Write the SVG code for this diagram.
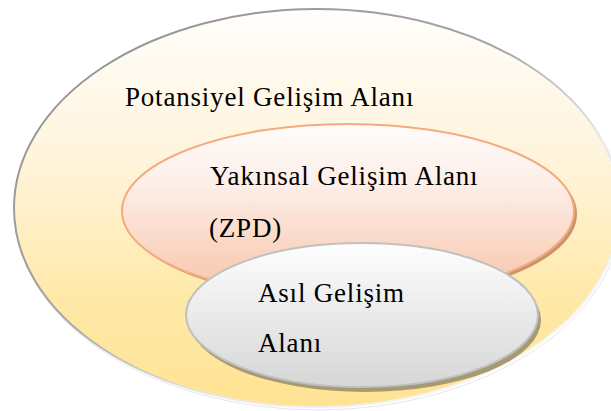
<svg xmlns="http://www.w3.org/2000/svg" width="611" height="411" viewBox="0 0 611 411" font-family="'Liberation Serif', 'Times New Roman', Times, serif" style="font-family:'Liberation Serif', 'Times New Roman', Times, serif">
  <defs>
    <linearGradient id="outerFill" x1="0" y1="0" x2="0" y2="1">
      <stop offset="0" stop-color="#fffefb"/>
      <stop offset="0.38" stop-color="#fff4dc"/>
      <stop offset="0.73" stop-color="#ffe9a8"/>
      <stop offset="1" stop-color="#ffe393"/>
    </linearGradient>
    <linearGradient id="outerStroke" x1="0" y1="0" x2="1" y2="1">
      <stop offset="0" stop-color="#8e8e8e"/>
      <stop offset="0.45" stop-color="#a6a6a6"/>
      <stop offset="0.65" stop-color="#e8e8e8"/>
      <stop offset="1" stop-color="#ffffff"/>
    </linearGradient>
    <linearGradient id="midFill" x1="0" y1="0" x2="0" y2="1">
      <stop offset="0" stop-color="#fffcfb"/>
      <stop offset="0.35" stop-color="#fdeee8"/>
      <stop offset="0.8" stop-color="#f9d0ba"/>
      <stop offset="1" stop-color="#f8c6ac"/>
    </linearGradient>
    <linearGradient id="innerFill" x1="0" y1="0" x2="0" y2="1">
      <stop offset="0" stop-color="#fefefe"/>
      <stop offset="1" stop-color="#d6d6d6"/>
    </linearGradient>
  </defs>
  <style>
    svg, g, text { font-family: "Liberation Serif", "Times New Roman", Times, serif !important; }
    .lbl { font-size: 27px; letter-spacing: 0.8px; fill: #000; }
  </style>

  <rect width="611" height="411" fill="#fff"/>

  <!-- outer zone: potential development -->
  <g id="potansiyel">
    <ellipse cx="318" cy="210" rx="304" ry="200" fill="none" stroke="#dcdcdc" stroke-width="0.7"/>
    <ellipse cx="317" cy="208" rx="303" ry="199" fill="url(#outerFill)" stroke="url(#outerStroke)" stroke-width="2"/>
    <text class="lbl" x="125" y="106">Potansiyel Gelişim Alanı</text>
  </g>

  <!-- middle zone: ZPD -->
  <g id="yakinsal">
    <ellipse cx="351" cy="214" rx="226" ry="87" fill="#c8956a"/>
    <ellipse cx="348" cy="211" rx="226" ry="87" fill="url(#midFill)" stroke="#f4ac7e" stroke-width="2"/>
    <text class="lbl" x="210" y="185">Yakınsal Gelişim Alanı</text>
    <text class="lbl" x="209" y="237">(ZPD)</text>
  </g>

  <!-- inner zone: actual development -->
  <g id="asil">
    <ellipse cx="365" cy="320" rx="176" ry="72" fill="#a69a74"/>
    <ellipse cx="362" cy="315" rx="176" ry="72" fill="url(#innerFill)" stroke="#c0c0c0" stroke-width="2"/>
    <text class="lbl" x="258" y="302">Asıl Gelişim</text>
    <text class="lbl" x="258" y="352">Alanı</text>
  </g>

  <g id="connectors"/>
</svg>
